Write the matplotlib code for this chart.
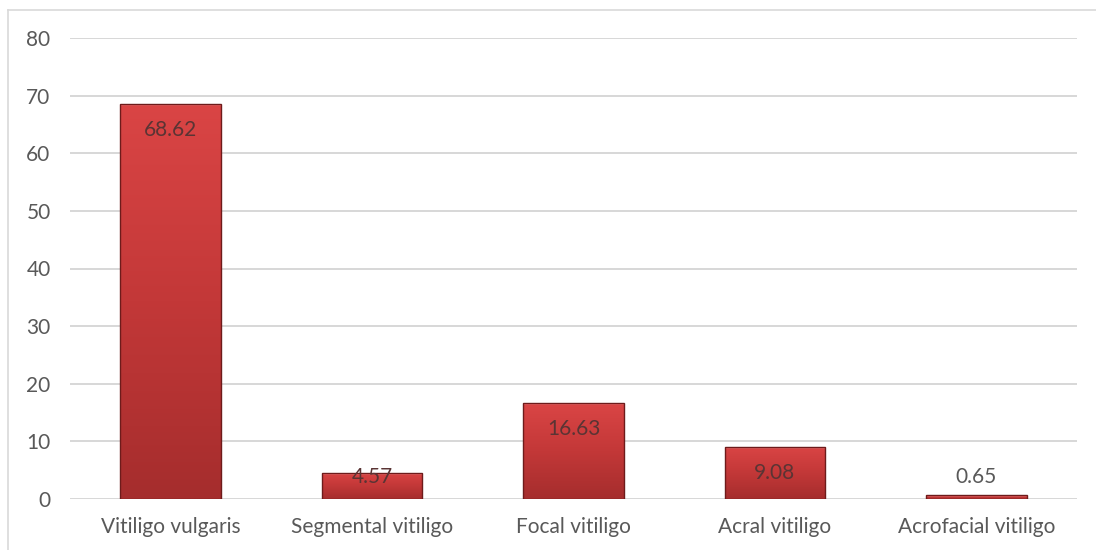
import numpy as np
import matplotlib.pyplot as plt
from matplotlib.colors import LinearSegmentedColormap
from matplotlib.lines import Line2D

# vitiligo subtypes, share of patients (%)
categories = ['Vitiligo vulgaris', 'Segmental vitiligo', 'Focal vitiligo',
              'Acral vitiligo', 'Acrofacial vitiligo']
values = [68.62, 4.57, 16.63, 9.08, 0.65]
yticks = [0, 10, 20, 30, 40, 50, 60, 70, 80]

plt.rcParams['font.family'] = ['Lato', 'DejaVu Sans']

W, H, DPI = 1096, 550, 100
fig = plt.figure(figsize=(W / DPI, H / DPI), dpi=DPI)
ax = fig.add_axes([70 / W, 51 / H, (1077 - 70) / W, (512 - 51) / H])

# thin frame around the chart area (left and top only visible)
fig.add_artist(Line2D([8 / W, 8 / W], [0, 1 - 10 / H], transform=fig.transFigure,
                      color='#d9d9d9', lw=1.2))
fig.add_artist(Line2D([8 / W, 1], [1 - 10 / H, 1 - 10 / H], transform=fig.transFigure,
                      color='#d9d9d9', lw=1.2))

x = np.arange(len(categories))
bw = 0.5
ax.set_xlim(-0.5, len(categories) - 0.5)
ax.set_ylim(0, 80)

for t in yticks:
    ax.axhline(t, color='#d4d4d4', lw=1.3, zorder=0)

# vertical red gradient for the bars
cmap = LinearSegmentedColormap.from_list('red', ['#a52d2d', '#c33838', '#da4545'])
grad = np.linspace(0, 1, 256).reshape(-1, 1)

bars = ax.bar(x, values, width=bw, color='none', edgecolor='#6e1b1b', lw=1.0, zorder=3)
for b in bars:
    x0, w, h = b.get_x(), b.get_width(), b.get_height()
    im = ax.imshow(grad, cmap=cmap, origin='lower', aspect='auto',
                   extent=(x0, x0 + w, 0, h), zorder=2)
    im.set_clip_path(b)
    # light bevel along the top edge
    bev = min(h * 0.5, 0.35)
    ax.fill_between([x0, x0 + w], [h, h], [h - bev, h - bev],
                    color='#ee7070', alpha=0.6, lw=0, zorder=2.5)

px_per_unit = (512 - 51) / 80
for xi, v in zip(x, values):
    bar_px = v * px_per_unit
    if v < 2:
        ax.annotate(f'{v:.2f}', (xi, v), xytext=(0, 18), textcoords='offset pixels',
                    ha='center', va='center', fontsize=15, color='#595959')
    else:
        off = min(26, bar_px - 22)
        ax.annotate(f'{v:.2f}', (xi, v), xytext=(0, -off), textcoords='offset pixels',
                    ha='center', va='center', fontsize=15, color='#5a3434', zorder=4)

ax.set_xticks(x)
ax.set_xticklabels(categories)
ax.set_yticks(yticks)
ax.tick_params(length=0, labelsize=15, labelcolor='#595959')
ax.tick_params(axis='x', pad=13)
ax.tick_params(axis='y', pad=14)
for s in ax.spines.values():
    s.set_visible(False)

fig.savefig('out.png', dpi=DPI)
